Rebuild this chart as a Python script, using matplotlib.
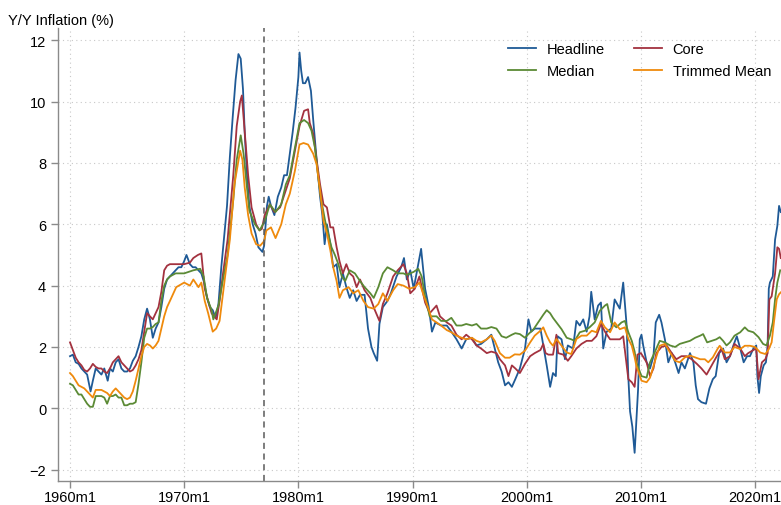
#!/usr/bin/env python

"""
Y/Y inflation: headline, core, median and trimmed-mean measures, 1960-2022.
"""

import matplotlib
matplotlib.use("Agg")
import matplotlib.pyplot as plt

plt.rcParams["font.family"] = ["Liberation Sans", "DejaVu Sans"]
plt.rcParams["font.size"] = 10.5

# Values (decimal year, percent)
headline_t = [
    1960.0, 1960.25, 1960.5, 1960.75, 1961.0, 1961.25, 1961.5, 1961.8, 1962.0, 1962.25,
    1962.5, 1962.75, 1963.0, 1963.3, 1963.5, 1963.75, 1964.0, 1964.25, 1964.5, 1964.75,
    1965.0, 1965.25, 1965.5, 1965.75, 1966.0, 1966.25, 1966.5, 1966.75, 1967.0, 1967.25,
    1967.5, 1967.75, 1968.0, 1968.25, 1968.5, 1968.75, 1969.25, 1969.5, 1969.75, 1970.0,
    1970.2, 1970.5, 1970.75, 1971.0, 1971.25, 1971.5, 1971.75, 1972.0, 1972.25, 1972.5,
    1972.75, 1973.0, 1973.25, 1973.5, 1973.75, 1974.0, 1974.25, 1974.5, 1974.75, 1974.95,
    1975.15, 1975.3, 1975.5, 1975.7, 1976.0, 1976.25, 1976.5, 1976.85, 1977.0, 1977.25,
    1977.4, 1977.6, 1977.9, 1978.2, 1978.5, 1978.75, 1979.0, 1979.25, 1979.5, 1979.75,
    1980.0, 1980.1, 1980.25, 1980.4, 1980.6, 1980.85, 1981.1, 1981.3, 1981.6, 1981.9,
    1982.1, 1982.3, 1982.5, 1982.8, 1983.05, 1983.35, 1983.6, 1983.9, 1984.2, 1984.5,
    1984.8, 1985.1, 1985.4, 1985.8, 1986.1, 1986.4, 1986.6, 1986.9, 1987.1, 1987.4,
    1987.8, 1988.1, 1988.6, 1989.0, 1989.25, 1989.5, 1989.8, 1990.1, 1990.4, 1990.75,
    1991.1, 1991.4, 1991.7, 1992.0, 1992.5, 1993.0, 1993.4, 1993.85, 1994.3, 1994.7,
    1995.2, 1995.6, 1996.0, 1996.5, 1996.9, 1997.2, 1997.5, 1997.8, 1998.1, 1998.4,
    1998.7, 1999.0, 1999.4, 1999.85, 2000.15, 2000.4, 2000.7, 2001.2, 2001.45, 2001.75,
    2002.05, 2002.3, 2002.55, 2002.7, 2003.05, 2003.35, 2003.6, 2004.05, 2004.35, 2004.65,
    2004.95, 2005.25, 2005.5, 2005.65, 2005.95, 2006.25, 2006.5, 2006.7, 2007.0, 2007.4,
    2007.7, 2008.15, 2008.45, 2008.75, 2008.9, 2009.05, 2009.25, 2009.45, 2009.75, 2009.9,
    2010.05, 2010.2, 2010.5, 2010.8, 2011.1, 2011.3, 2011.6, 2011.8, 2012.1, 2012.4,
    2012.7, 2013.0, 2013.3, 2013.55, 2013.85, 2014.3, 2014.6, 2014.8, 2015.0, 2015.3,
    2015.7, 2016.0, 2016.3, 2016.55, 2016.85, 2017.2, 2017.5, 2017.8, 2018.1, 2018.4,
    2018.7, 2019.0, 2019.3, 2019.55, 2019.85, 2020.1, 2020.2, 2020.35, 2020.5, 2020.75,
    2020.95, 2021.1, 2021.2, 2021.3, 2021.55, 2021.75, 2021.95, 2022.1, 2022.25,
]
headline_v = [
    1.7, 1.75, 1.5, 1.45, 1.3, 1.2, 1.1, 0.55, 0.9, 1.3,
    1.2, 1.1, 1.3, 0.9, 1.3, 1.2, 1.5, 1.6, 1.3, 1.2,
    1.2, 1.3, 1.55, 1.7, 2.0, 2.35, 2.9, 3.25, 2.9, 2.3,
    2.6, 2.8, 3.3, 3.9, 4.2, 4.3, 4.5, 4.6, 4.6, 4.8,
    5.0, 4.7, 4.6, 4.6, 4.5, 4.4, 4.1, 3.6, 3.3, 3.2,
    2.95, 3.4, 4.6, 5.6, 6.6, 8.2, 9.5, 10.7, 11.55, 11.4,
    10.4, 9.0, 7.6, 6.6, 6.0, 5.7, 5.25, 5.1, 5.3, 6.6,
    6.9, 6.6, 6.3, 6.9, 7.2, 7.6, 7.6, 8.3, 9.0, 9.8,
    10.8, 11.6, 11.0, 10.6, 10.6, 10.8, 10.35, 9.4, 8.1, 6.9,
    6.3, 5.35, 6.0, 5.35, 4.6, 4.7, 3.95, 4.4, 3.95, 3.6,
    3.85, 3.5, 3.7, 3.7, 2.6, 2.0, 1.8, 1.55, 2.75, 3.3,
    3.5, 3.75, 4.3, 4.6, 4.9, 4.2, 4.5, 3.9, 4.5, 5.2,
    3.9, 3.35, 2.5, 2.8, 2.7, 2.7, 2.5, 2.25, 1.95, 2.25,
    2.3, 2.05, 2.1, 2.25, 2.4, 1.95, 1.5, 1.2, 0.75, 0.85,
    0.7, 0.95, 1.3, 1.95, 2.9, 2.5, 2.6, 2.6, 2.05, 1.4,
    0.7, 1.15, 1.05, 2.35, 2.25, 1.6, 2.05, 1.95, 2.85, 2.7,
    2.9, 2.5, 3.0, 3.8, 2.9, 3.35, 3.45, 1.95, 2.5, 2.6,
    3.55, 3.25, 4.1, 2.7, 1.0, -0.1, -0.6, -1.45, 0.6, 2.25,
    2.4, 2.05, 1.5, 1.3, 1.7, 2.8, 3.05, 2.8, 2.25, 1.5,
    1.8, 1.5, 1.15, 1.5, 1.3, 1.8, 1.5, 0.75, 0.3, 0.2,
    0.15, 0.65, 0.95, 1.05, 1.8, 1.95, 1.5, 1.7, 2.05, 2.35,
    1.95, 1.5, 1.7, 1.7, 1.95, 2.05, 1.05, 0.5, 1.05, 1.4,
    1.5, 2.05, 3.9, 4.1, 4.3, 5.5, 5.95, 6.6, 6.4,
]

core_t = [
    1960.0, 1960.25, 1960.5, 1960.75, 1961.0, 1961.25, 1961.5, 1961.75, 1962.0, 1962.25,
    1962.5, 1962.75, 1963.0, 1963.25, 1963.5, 1963.75, 1964.0, 1964.25, 1964.5, 1964.75,
    1965.0, 1965.25, 1965.5, 1965.75, 1966.0, 1966.25, 1966.5, 1966.75, 1967.0, 1967.25,
    1967.5, 1967.75, 1968.0, 1968.25, 1968.5, 1968.75, 1969.0, 1969.5, 1970.0, 1970.5,
    1970.8, 1971.2, 1971.5, 1971.8, 1972.1, 1972.4, 1972.85, 1973.1, 1973.4, 1973.8,
    1974.3, 1974.6, 1974.9, 1975.05, 1975.3, 1975.6, 1975.9, 1976.3, 1976.6, 1976.8,
    1977.05, 1977.5, 1977.9, 1978.4, 1978.8, 1979.25, 1979.7, 1980.1, 1980.5, 1980.85,
    1981.0, 1981.3, 1981.6, 1981.9, 1982.2, 1982.5, 1982.8, 1983.05, 1983.35, 1983.6,
    1983.9, 1984.2, 1984.5, 1984.8, 1985.1, 1985.4, 1985.8, 1986.3, 1986.7, 1987.1,
    1987.4, 1987.8, 1988.3, 1988.7, 1989.2, 1989.5, 1989.8, 1990.2, 1990.6, 1991.1,
    1991.5, 1992.1, 1992.4, 1993.0, 1993.4, 1993.85, 1994.3, 1994.7, 1995.2, 1995.6,
    1996.0, 1996.5, 1996.9, 1997.35, 1997.65, 1998.1, 1998.4, 1998.7, 1999.0, 1999.4,
    1999.85, 2000.3, 2000.7, 2001.2, 2001.45, 2001.65, 2001.9, 2002.3, 2002.6, 2002.75,
    2003.2, 2003.6, 2003.9, 2004.35, 2004.8, 2005.25, 2005.7, 2006.1, 2006.5, 2006.85,
    2007.3, 2007.7, 2008.15, 2008.45, 2008.75, 2008.9, 2009.2, 2009.45, 2009.7, 2010.0,
    2010.5, 2010.8, 2011.1, 2011.35, 2011.8, 2012.25, 2012.7, 2013.1, 2013.55, 2014.0,
    2014.45, 2014.9, 2015.3, 2015.75, 2016.05, 2016.5, 2016.8, 2017.05, 2017.35, 2017.8,
    2018.2, 2018.7, 2019.1, 2019.4, 2019.85, 2020.1, 2020.3, 2020.6, 2020.9, 2021.1,
    2021.25, 2021.45, 2021.75, 2021.95, 2022.1, 2022.25,
]
core_v = [
    2.15, 1.9, 1.65, 1.5, 1.4, 1.25, 1.2, 1.3, 1.45, 1.35,
    1.3, 1.3, 1.2, 1.15, 1.3, 1.5, 1.6, 1.7, 1.5, 1.4,
    1.3, 1.2, 1.25, 1.4, 1.6, 1.9, 2.5, 3.1, 3.0, 2.9,
    3.1, 3.3, 3.8, 4.5, 4.65, 4.7, 4.7, 4.7, 4.7, 4.75,
    4.9, 5.0, 5.05, 3.9, 3.5, 3.1, 2.9, 3.5, 4.4, 5.5,
    7.6, 9.2, 10.0, 10.2, 9.0, 7.6, 6.55, 6.0, 5.8, 5.85,
    6.3, 6.65, 6.4, 6.55, 7.0, 7.5, 8.4, 9.2, 9.7, 9.75,
    9.3, 8.95, 8.1, 7.3, 6.65, 6.55, 5.9, 5.9, 5.25, 4.8,
    4.4, 4.7, 4.4, 4.3, 3.95, 4.2, 3.85, 3.6, 3.2, 2.85,
    3.4, 3.75, 4.3, 4.5, 4.7, 4.4, 3.75, 3.9, 4.3, 3.45,
    3.1, 3.35, 3.0, 2.8, 2.7, 2.4, 2.25, 2.4, 2.25, 2.05,
    1.95, 1.8, 1.85, 1.8, 1.6, 1.4, 1.05, 1.4, 1.3, 1.15,
    1.45, 1.7, 1.8, 1.9, 2.1, 1.8, 1.75, 1.75, 2.4, 1.8,
    1.75, 1.55, 1.7, 1.95, 2.1, 2.2, 2.2, 2.35, 2.75, 2.5,
    2.25, 2.25, 2.25, 2.35, 1.4, 0.95, 0.85, 0.7, 1.75, 1.8,
    1.5, 1.05, 1.3, 1.8, 2.0, 2.05, 1.8, 1.6, 1.7, 1.7,
    1.6, 1.45, 1.3, 1.1, 1.3, 1.6, 1.8, 1.95, 1.6, 1.7,
    2.1, 1.95, 1.7, 1.8, 1.9, 1.95, 0.95, 1.5, 1.6, 1.8,
    3.55, 3.65, 4.4, 5.25, 5.2, 4.9,
]

median_t = [
    1960.0, 1960.25, 1960.5, 1960.75, 1961.0, 1961.25, 1961.5, 1961.75, 1962.0, 1962.25,
    1962.5, 1962.75, 1963.0, 1963.25, 1963.5, 1963.75, 1964.0, 1964.25, 1964.5, 1964.75,
    1965.0, 1965.25, 1965.5, 1965.75, 1966.0, 1966.25, 1966.5, 1966.75, 1967.0, 1967.25,
    1967.5, 1967.75, 1968.0, 1968.25, 1968.5, 1968.75, 1969.25, 1970.0, 1970.8, 1971.4,
    1971.7, 1972.0, 1972.4, 1972.55, 1973.0, 1973.4, 1973.8, 1974.3, 1974.6, 1974.95,
    1975.2, 1975.5, 1975.7, 1976.2, 1976.6, 1977.05, 1977.5, 1978.0, 1978.5, 1978.9,
    1979.25, 1979.7, 1980.1, 1980.5, 1980.85, 1981.15, 1981.45, 1981.75, 1982.0, 1982.35,
    1982.6, 1982.9, 1983.2, 1983.5, 1983.8, 1984.1, 1984.5, 1984.95, 1985.4, 1985.8,
    1986.3, 1986.6, 1987.0, 1987.4, 1987.8, 1988.3, 1988.7, 1989.2, 1989.5, 1990.1,
    1990.5, 1990.8, 1991.1, 1991.5, 1992.1, 1992.5, 1993.0, 1993.4, 1993.85, 1994.3,
    1994.7, 1995.2, 1995.6, 1996.0, 1996.5, 1996.9, 1997.35, 1997.8, 1998.2, 1998.7,
    1999.0, 1999.4, 1999.85, 2000.15, 2000.6, 2001.0, 2001.45, 2001.75, 2002.05, 2002.3,
    2002.6, 2003.05, 2003.5, 2003.9, 2004.2, 2004.65, 2005.1, 2005.5, 2005.95, 2006.4,
    2006.85, 2007.05, 2007.4, 2007.85, 2008.3, 2008.6, 2008.9, 2009.2, 2009.45, 2009.6,
    2010.05, 2010.5, 2010.8, 2011.2, 2011.65, 2012.1, 2012.55, 2013.0, 2013.4, 2013.85,
    2014.3, 2014.75, 2015.2, 2015.45, 2015.8, 2016.2, 2016.6, 2016.9, 2017.2, 2017.5,
    2017.8, 2018.2, 2018.7, 2019.1, 2019.4, 2019.85, 2020.3, 2020.7, 2021.0, 2021.3,
    2021.55, 2021.75, 2021.95, 2022.2,
]
median_v = [
    0.8, 0.75, 0.6, 0.45, 0.45, 0.3, 0.15, 0.05, 0.05, 0.4,
    0.4, 0.4, 0.35, 0.15, 0.4, 0.4, 0.45, 0.35, 0.35, 0.1,
    0.1, 0.15, 0.15, 0.2, 0.8, 1.5, 2.3, 2.6, 2.6, 2.65,
    2.75, 2.8, 3.5, 4.0, 4.2, 4.3, 4.4, 4.4, 4.5, 4.55,
    4.3, 3.6, 3.2, 2.9, 3.35, 4.2, 5.0, 6.8, 8.1, 8.9,
    8.3, 7.2, 6.45, 6.0, 5.8, 6.1, 6.65, 6.4, 6.65, 7.3,
    7.6, 8.5, 9.3, 9.4, 9.3, 9.05, 8.5, 7.5, 6.8, 6.1,
    5.7, 5.25, 5.0, 4.7, 4.3, 4.15, 4.5, 4.4, 4.15, 3.95,
    3.75, 3.6, 3.95, 4.4, 4.6, 4.5, 4.4, 4.4, 4.35, 4.45,
    4.55, 4.3, 3.65, 3.0, 3.0, 2.85, 2.85, 2.95, 2.7, 2.7,
    2.75, 2.7, 2.75, 2.6, 2.6, 2.65, 2.6, 2.35, 2.3, 2.4,
    2.45, 2.42, 2.3, 2.42, 2.58, 2.8, 3.05, 3.2, 3.1, 2.95,
    2.8, 2.58, 2.3, 2.25, 2.2, 2.48, 2.53, 2.64, 2.8, 3.18,
    3.35, 3.4, 2.8, 2.64, 2.8, 2.85, 2.48, 2.2, 1.85, 1.5,
    1.05, 1.0, 1.5, 1.82, 2.2, 2.15, 2.05, 2.0, 2.1, 2.15,
    2.2, 2.3, 2.37, 2.42, 2.15, 2.2, 2.25, 2.32, 2.2, 2.05,
    2.15, 2.37, 2.48, 2.64, 2.53, 2.48, 2.32, 2.1, 2.05, 2.37,
    2.8, 3.55, 4.1, 4.5,
]

trimmed_t = [
    1960.0, 1960.25, 1960.5, 1960.75, 1961.0, 1961.25, 1961.5, 1961.75, 1962.0, 1962.25,
    1962.5, 1962.75, 1963.0, 1963.25, 1963.5, 1963.75, 1964.0, 1964.25, 1964.5, 1964.75,
    1965.0, 1965.25, 1965.5, 1965.75, 1966.0, 1966.25, 1966.5, 1966.75, 1967.0, 1967.25,
    1967.5, 1967.75, 1968.0, 1968.25, 1968.5, 1968.75, 1969.3, 1970.0, 1970.5, 1970.8,
    1971.25, 1971.5, 1971.8, 1972.1, 1972.5, 1972.8, 1973.1, 1973.55, 1974.0, 1974.4,
    1974.9, 1975.1, 1975.3, 1975.6, 1975.9, 1976.3, 1976.65, 1977.0, 1977.2, 1977.6,
    1978.0, 1978.5, 1978.9, 1979.25, 1979.7, 1980.1, 1980.45, 1980.85, 1981.3, 1981.6,
    1981.9, 1982.2, 1982.5, 1982.8, 1983.05, 1983.35, 1983.6, 1983.9, 1984.4, 1984.8,
    1985.25, 1985.7, 1986.1, 1986.6, 1987.0, 1987.4, 1987.8, 1988.3, 1988.7, 1989.2,
    1989.7, 1990.2, 1990.6, 1991.0, 1991.3, 1991.7, 1992.1, 1992.5, 1993.0, 1993.4,
    1993.85, 1994.3, 1994.7, 1995.2, 1995.6, 1996.0, 1996.5, 1996.9, 1997.2, 1997.65,
    1998.1, 1998.5, 1998.95, 1999.4, 1999.85, 2000.3, 2000.7, 2001.2, 2001.45, 2001.75,
    2002.05, 2002.3, 2002.6, 2003.05, 2003.5, 2003.9, 2004.35, 2004.8, 2005.25, 2005.7,
    2006.1, 2006.5, 2006.85, 2007.3, 2007.7, 2008.15, 2008.6, 2008.9, 2009.2, 2009.45,
    2009.6, 2010.05, 2010.5, 2010.8, 2011.2, 2011.65, 2012.1, 2012.55, 2013.0, 2013.4,
    2013.85, 2014.3, 2014.75, 2015.2, 2015.6, 2015.9, 2016.3, 2016.7, 2016.9, 2017.35,
    2017.8, 2018.2, 2018.7, 2019.1, 2019.55, 2020.0, 2020.45, 2020.9, 2021.2, 2021.45,
    2021.65, 2021.9, 2022.1, 2022.25,
]
trimmed_v = [
    1.15, 1.05, 0.9, 0.75, 0.7, 0.65, 0.55, 0.45, 0.35, 0.6,
    0.6, 0.6, 0.55, 0.5, 0.4, 0.55, 0.65, 0.55, 0.45, 0.35,
    0.3, 0.35, 0.55, 0.9, 1.3, 1.7, 2.0, 2.1, 2.05, 1.95,
    2.05, 2.2, 2.6, 3.0, 3.3, 3.5, 3.95, 4.1, 4.0, 4.2,
    3.95, 4.1, 3.5, 3.1, 2.5, 2.6, 2.85, 4.2, 5.5, 7.3,
    8.4, 8.1, 7.2, 6.3, 5.7, 5.35, 5.3, 5.45, 5.8, 5.9,
    5.55, 6.0, 6.65, 7.0, 7.75, 8.6, 8.65, 8.6, 8.3, 7.95,
    7.1, 6.1, 5.7, 5.15, 4.6, 4.15, 3.6, 3.85, 3.95, 3.75,
    3.85, 3.5, 3.3, 3.25, 3.4, 3.75, 3.5, 3.85, 4.05, 4.0,
    3.9, 3.95, 4.1, 3.65, 3.35, 2.9, 2.8, 2.7, 2.55, 2.48,
    2.37, 2.3, 2.25, 2.3, 2.2, 2.15, 2.25, 2.37, 2.2, 1.8,
    1.65, 1.65, 1.76, 1.75, 1.88, 2.15, 2.37, 2.53, 2.64, 2.37,
    2.15, 2.04, 2.26, 2.04, 1.82, 1.77, 2.26, 2.37, 2.37, 2.53,
    2.48, 2.85, 2.64, 2.48, 2.8, 2.58, 2.64, 2.26, 2.04, 1.67,
    1.39, 0.9, 0.85, 1.0, 1.5, 2.04, 2.1, 1.82, 1.55, 1.5,
    1.66, 1.72, 1.66, 1.6, 1.6, 1.5, 1.66, 1.93, 2.04, 1.82,
    1.82, 2.0, 1.93, 2.04, 2.04, 2.0, 1.82, 1.77, 1.93, 2.15,
    2.8, 3.56, 3.72, 3.78,
]

series = [
    ("Headline", headline_t, headline_v, "#1f5a96"),
    ("Core", core_t, core_v, "#a3323f"),
    ("Median", median_t, median_v, "#5b8a35"),
    ("Trimmed Mean", trimmed_t, trimmed_v, "#ef8a0c"),
]

x_ticks = [1960, 1970, 1980, 1990, 2000, 2010, 2020]
x_labels = [f"{y}m1" for y in x_ticks]
y_ticks = [-2, 0, 2, 4, 6, 8, 10, 12]
break_year = 1977.0

fig = plt.figure(figsize=(7.81, 5.06), dpi=100)
ax = fig.add_axes([0.0743, 0.0474, 0.9257, 0.8953])

lines = {}
for label, t, v, color in series:
    (ln,) = ax.plot(t, v, color=color, lw=1.3, label=label, solid_joinstyle="round")
    lines[label] = ln

ax.axvline(break_year, color="#5a5a5a", lw=1.1, ls=(0, (4, 3)))

ax.set_xlim(1958.95, 2022.27)
ax.set_ylim(-2.37, 12.4)
ax.set_xticks(x_ticks)
ax.set_xticklabels(x_labels)
ax.set_yticks(y_ticks)
ax.grid(True, color="#c8c8c8", lw=0.8, ls=(0, (1, 3)))
ax.set_axisbelow(True)

for side in ("top", "right"):
    ax.spines[side].set_visible(False)
for side in ("left", "bottom"):
    ax.spines[side].set_color("#8a8a8a")
    ax.spines[side].set_linewidth(1.0)
ax.tick_params(axis="both", colors="#8a8a8a", labelcolor="black", length=5, width=1.0,
               labelsize=10.5)
ax.tick_params(axis="x", pad=1.5)

fig.text(8 / 781, 1 - 21 / 506, "Y/Y Inflation (%)", fontsize=10.5, va="center", ha="left")

# legend fills column by column: Headline / Median, then Core / Trimmed Mean
order = ["Headline", "Median", "Core", "Trimmed Mean"]
ax.legend([lines[k] for k in order], order, ncol=2, frameon=False,
          loc="upper left", bbox_to_anchor=(508 / 781, 1 - 43 / 506),
          bbox_transform=fig.transFigure, borderpad=0, borderaxespad=0,
          handlelength=1.9, handletextpad=0.75, columnspacing=2.0,
          labelspacing=0.55, fontsize=10.5)

fig.savefig("out.png", dpi=100)
print("Plot saved to out.png")
